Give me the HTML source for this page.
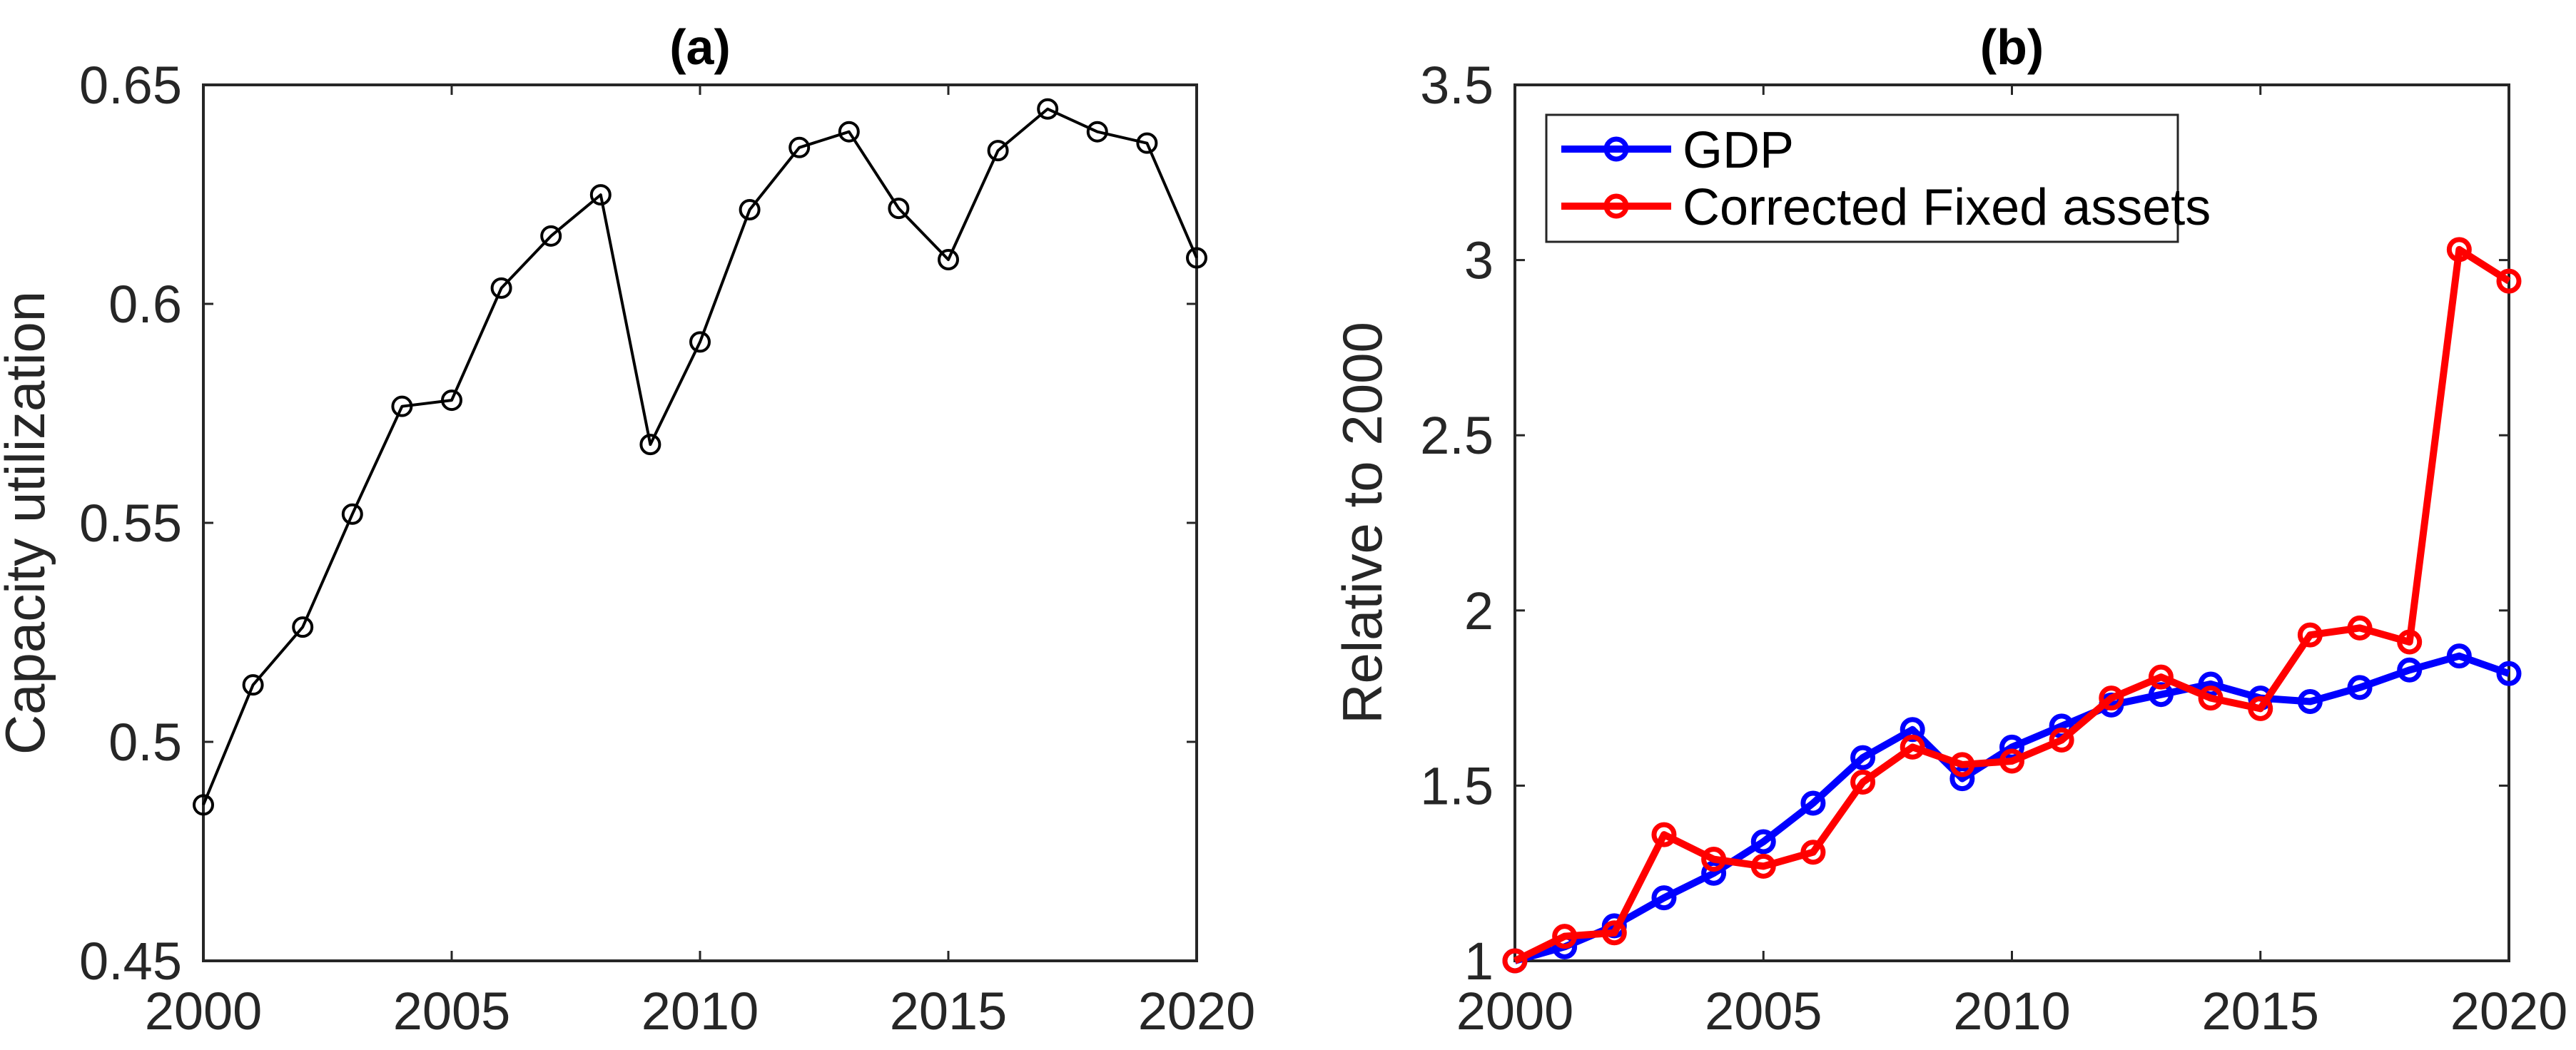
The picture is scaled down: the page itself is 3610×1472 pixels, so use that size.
<!DOCTYPE html>
<html><head><meta charset="utf-8"><style>
html,body{margin:0;padding:0;background:#fff;}
svg{display:block;font-family:"Liberation Sans",Arial,sans-serif;}
</style></head><body>
<svg id="fig" width="3610" height="1472" viewBox="0 0 3610 1472" xmlns="http://www.w3.org/2000/svg"></svg>
<script>
const years = [2000,2001,2002,2003,2004,2005,2006,2007,2008,2009,2010,2011,2012,2013,2014,2015,2016,2017,2018,2019,2020];
const capacityUtil = [0.4856,0.513,0.5262,0.552,0.5766,0.578,0.6036,0.6155,0.6249,0.5679,0.5913,0.6215,0.6357,0.6393,0.6218,0.6101,0.635,0.6445,0.6393,0.6367,0.6105];
const gdpRel = [1.0,1.04,1.10,1.18,1.25,1.34,1.45,1.58,1.66,1.52,1.61,1.67,1.73,1.76,1.79,1.75,1.74,1.78,1.83,1.87,1.82];
const fixedAssetsRel = [1.0,1.07,1.08,1.36,1.29,1.27,1.31,1.51,1.61,1.56,1.57,1.63,1.75,1.81,1.75,1.72,1.93,1.95,1.91,3.03,2.94];
const xTicks = [2000,2005,2010,2015,2020];
const yTicksA = [0.45,0.5,0.55,0.6,0.65];
const yTickLabelsA = ["0.45","0.5","0.55","0.6","0.65"];
const yTicksB = [1,1.5,2,2.5,3,3.5];
const yTickLabelsB = ["1","1.5","2","2.5","3","3.5"];

const NS="http://www.w3.org/2000/svg";
const svg=document.getElementById('fig');
function mk(tag,attrs,parent){const e=document.createElementNS(NS,tag);for(const k in attrs)e.setAttribute(k,attrs[k]);(parent||svg).appendChild(e);return e;}

function panel(id,L,R,T,B,ymin,ymax,yTicks,yLabels,title,ytitle,ytitleX){
  const g=mk('g',{});
  
  
  const sx=v=>L+(v-2000)/20*(R-L);
  const sy=v=>B-(v-ymin)/(ymax-ymin)*(B-T);
  const box=mk('rect',{x:L,y:T,width:R-L,height:B-T,fill:'none',stroke:'#262626','stroke-width':4},g);
  
  
  xTicks.forEach(t=>{
    const x=sx(t);
    mk('line',{x1:x,y1:B,x2:x,y2:B-14,stroke:'#262626','stroke-width':3},g);
    mk('line',{x1:x,y1:T,x2:x,y2:T+14,stroke:'#262626','stroke-width':3},g);
    const tx=mk('text',{x:x,y:1443,'font-size':74,'text-anchor':'middle',fill:'#262626'},g);
    tx.textContent=t;
    
    
  });
  yTicks.forEach((t,i)=>{
    const y=sy(t);
    mk('line',{x1:L,y1:y,x2:L+14,y2:y,stroke:'#262626','stroke-width':3},g);
    mk('line',{x1:R,y1:y,x2:R-14,y2:y,stroke:'#262626','stroke-width':3},g);
    const tx=mk('text',{x:L-30,y:y+26,'font-size':74,'text-anchor':'end',fill:'#262626'},g);
    tx.textContent=yLabels[i];
    
    
  });
  const tt=mk('text',{x:(L+R)/2,y:90,'font-size':70,'font-weight':'bold','text-anchor':'middle',fill:'#000'},g);
  tt.textContent=title;
  
  
  const yt=mk('text',{x:0,y:0,'font-size':78,'text-anchor':'middle',fill:'#262626',transform:`translate(${ytitleX},${(T+B)/2}) rotate(-90)`},g);
  yt.textContent=ytitle;
  
  
  return {g,sx,sy};
}

function series(p,vals,color,lw,r,mw,name){
  const pts=vals.map((v,i)=>p.sx(years[i])+','+p.sy(v)).join(' ');
  const pl=mk('polyline',{points:pts,fill:'none',stroke:color,'stroke-width':lw,'stroke-linejoin':'round'},p.g);
  
  
  vals.forEach((v,i)=>{
    const c=mk('circle',{cx:p.sx(years[i]),cy:p.sy(v),r:r,fill:'none',stroke:color,'stroke-width':mw},p.g);
    
    
  });
}

const pa=panel('panel-a',285,1677,119,1347,0.45,0.65,yTicksA,yTickLabelsA,'(a)','Capacity utilization',62);
series(pa,capacityUtil,'#000',4,13,4,'capacity-utilization');

const pb=panel('panel-b',2123,3516,119,1347,1,3.5,yTicksB,yTickLabelsB,'(b)','Relative to 2000',1936);
series(pb,gdpRel,'#0000ff',10,14,7,'gdp');
series(pb,fixedAssetsRel,'#ff0000',10,14,7,'fixed-assets');

// legend
const lg=mk('g',{});


mk('rect',{x:2167,y:161,width:885,height:178,fill:'#fff',stroke:'#262626','stroke-width':3},lg);
[['GDP','#0000ff',209,'legend-entry-gdp'],['Corrected Fixed assets','#ff0000',289,'legend-entry-fixed-assets']].forEach(([lab,col,y,nm])=>{
  const e=mk('g',{},lg);
  
  
  mk('line',{x1:2188,y1:y,x2:2342,y2:y,stroke:col,'stroke-width':10},e);
  mk('circle',{cx:2265,cy:y,r:14,fill:'none',stroke:col,'stroke-width':7},e);
  const t=mk('text',{x:2358,y:y+26,'font-size':72,fill:'#000'},e);
  t.textContent=lab;
});
</script>
</body></html>
